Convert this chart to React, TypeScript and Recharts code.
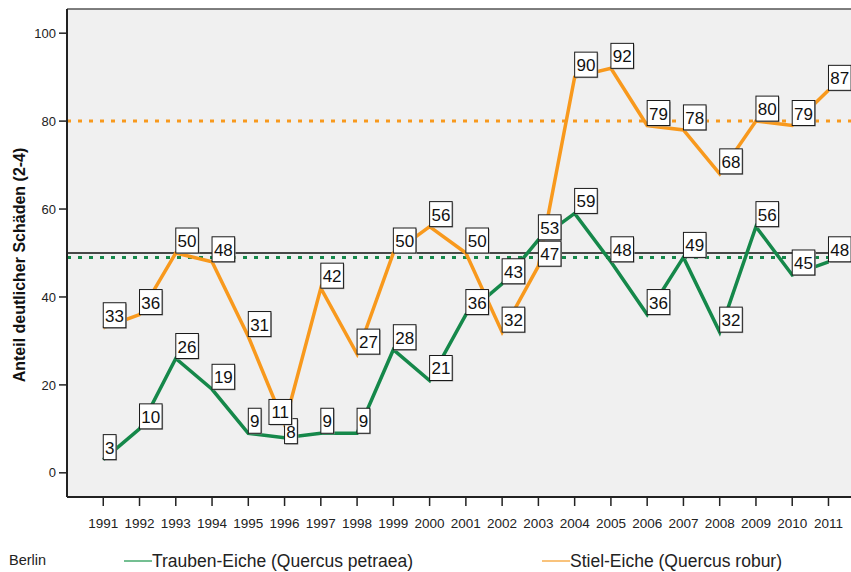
import { LineChart, Line, XAxis, YAxis, CartesianGrid, ReferenceLine, LabelList } from 'recharts';

const years = [
  1991, 1992, 1993, 1994, 1995, 1996, 1997, 1998, 1999, 2000, 2001,
  2002, 2003, 2004, 2005, 2006, 2007, 2008, 2009, 2010, 2011,
];
const traubenEiche = [3, 10, 26, 19, 9, 8, 9, 9, 28, 21, 36, 43, 53, 59, 48, 36, 49, 32, 56, 45, 48];
const stielEiche = [33, 36, 50, 48, 31, 11, 42, 27, 50, 56, 50, 32, 47, 90, 92, 79, 78, 68, 80, 79, 87];
const yTicks = [0, 20, 40, 60, 80, 100];

const overallRef = 50;
const traubenRef = 49;
const stielRef = 80;

const GREEN = '#15884a';
const ORANGE = '#f8991d';
const FONT = "'Liberation Sans', Arial, sans-serif";

const data = years.map((year, i) => ({
  year,
  trauben: traubenEiche[i],
  stiel: stielEiche[i],
}));

const seriesValues: Record<string, number[]> = { trauben: traubenEiche, stiel: stielEiche };

// white value box, bottom-left corner sits on the point (SPSS style).
// when the two boxes of one year would collide, the upper one slides left
// and the lower one drops a bit, like SPSS does.
function ValueBox(props: any) {
  const { x, y, value, index, series } = props;
  if (x == null || y == null) return null;
  const text = String(value);
  const w = text.length * 9.8 + 3;
  const h = 25;
  const own = seriesValues[series][index];
  const other = seriesValues[series === 'trauben' ? 'stiel' : 'trauben'][index];
  let dx = 0;
  let dy = 0;
  if (Math.abs(own - other) < 5) {
    if (own >= other) dx = -(w - 7);
    else dy = 6;
  }
  const bx = x + dx;
  const by = y - h + dy;
  return (
    <g>
      <rect x={bx + 1} y={by + 1} width={w} height={h} fill="#9a9a9a" />
      <rect x={bx} y={by} width={w} height={h} fill="#ffffff" stroke="#1a1a1a" strokeWidth={1} />
      <text
        x={bx + w / 2}
        y={by + h / 2 + 1}
        textAnchor="middle"
        dominantBaseline="central"
        fontSize={17}
        fontFamily={FONT}
        fill="#111"
      >
        {text}
      </text>
    </g>
  );
}

function AxisTitle() {
  return (
    <text
      x={19}
      y={265}
      transform="rotate(-90 19 265)"
      textAnchor="middle"
      dominantBaseline="central"
      fontSize={16}
      fontWeight="bold"
      fontFamily={FONT}
      fill="#111"
    >
      Anteil deutlicher Schäden (2-4)
    </text>
  );
}

export default function App() {
  return (
    <div
      style={{
        position: 'fixed',
        left: 0,
        top: 0,
        width: 851,
        height: 572,
        overflow: 'hidden',
        background: '#fff',
        fontFamily: FONT,
      }}
    >
      <LineChart width={901} height={572} data={data} margin={{ top: 9, right: 0, bottom: 35, left: 0 }}>
        <CartesianGrid fill="#f0f0f0" horizontal={false} vertical={false} />
        <XAxis
          dataKey="year"
          type="number"
          domain={[1990.045, 2013]}
          ticks={years}
          allowDecimals={false}
          height={40}
          tickSize={9}
          tickMargin={12}
          axisLine={{ stroke: '#222', strokeWidth: 2 }}
          tickLine={{ stroke: '#222', strokeWidth: 1.5 }}
          tick={{ fill: '#222', fontSize: 13.5, fontFamily: FONT }}
        />
        <YAxis
          type="number"
          domain={[-5.5, 105.5]}
          ticks={yTicks}
          width={67}
          tickSize={8}
          tickMargin={3}
          axisLine={{ stroke: '#222', strokeWidth: 2 }}
          tickLine={{ stroke: '#222', strokeWidth: 1.5 }}
          tick={{ fill: '#222', fontSize: 13, fontFamily: FONT }}
          label={<AxisTitle />}
        />
        <ReferenceLine y={105.5} stroke="#555" strokeWidth={1.5} />
        <ReferenceLine y={stielRef} stroke={ORANGE} strokeWidth={3} strokeDasharray="4 7" />
        <ReferenceLine y={overallRef} stroke="#111" strokeWidth={1.5} />
        <ReferenceLine y={traubenRef} stroke={GREEN} strokeWidth={3} strokeDasharray="4 7" />
        <Line
          dataKey="trauben"
          stroke={GREEN}
          strokeWidth={3.5}
          dot={false}
          activeDot={false}
          isAnimationActive={false}
          strokeLinejoin="miter"
        />
        <Line
          dataKey="stiel"
          stroke={ORANGE}
          strokeWidth={3.5}
          dot={false}
          activeDot={false}
          isAnimationActive={false}
          strokeLinejoin="miter"
        />
        {/* label-only series so the boxes sit above both lines */}
        <Line dataKey="trauben" stroke="none" dot={false} activeDot={false} isAnimationActive={false}>
          <LabelList dataKey="trauben" content={(p: any) => <ValueBox {...p} series="trauben" />} />
        </Line>
        <Line dataKey="stiel" stroke="none" dot={false} activeDot={false} isAnimationActive={false}>
          <LabelList dataKey="stiel" content={(p: any) => <ValueBox {...p} series="stiel" />} />
        </Line>
      </LineChart>

      <div style={{ position: 'absolute', left: 9, top: 551, fontSize: 14.5, color: '#222', lineHeight: '18px' }}>
        Berlin
      </div>
      <div style={{ position: 'absolute', left: 124, top: 550, display: 'flex', alignItems: 'center', fontSize: 17.5, color: '#222', lineHeight: '22px' }}>
        <span style={{ display: 'inline-block', width: 28, height: 2, background: '#74bf92' }} />
        Trauben-Eiche (Quercus petraea)
      </div>
      <div style={{ position: 'absolute', left: 542, top: 550, display: 'flex', alignItems: 'center', fontSize: 17.5, color: '#222', lineHeight: '22px' }}>
        <span style={{ display: 'inline-block', width: 28, height: 2, background: '#f9c37c' }} />
        Stiel-Eiche (Quercus robur)
      </div>
    </div>
  );
}
